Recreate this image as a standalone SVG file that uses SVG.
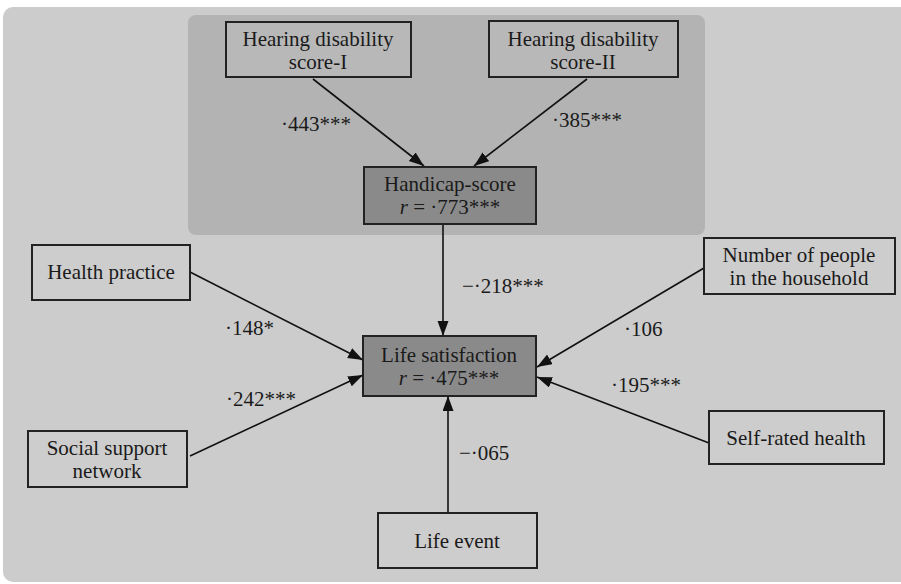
<svg xmlns="http://www.w3.org/2000/svg" width="901" height="584" viewBox="0 0 901 584">
<style>
text{font-family:"Liberation Serif","Times New Roman",serif;font-size:21px;fill:#1a1a1a;text-anchor:middle}
.lbl{text-anchor:start}
.box{fill:#cdcdcd;stroke:#222;stroke-width:2}
.inbox{fill:#b8b8b8;stroke:#222;stroke-width:2}
.dark{fill:#8a8a8a;stroke:#222;stroke-width:2}
.edge{stroke:#111;stroke-width:1.6;fill:none;marker-end:url(#ah)}
</style>
<defs>
<marker id="ah" markerUnits="userSpaceOnUse" markerWidth="16" markerHeight="12" refX="15" refY="5.5" orient="auto">
<path d="M0,0 L15,5.5 L0,11 z" fill="#111"/>
</marker>
</defs>
<rect x="0" y="0" width="901" height="584" fill="#ffffff"/>
<rect x="3" y="7" width="910" height="575" rx="10" fill="#cccccc"/>
<rect x="188" y="15" width="517" height="220" rx="8" fill="#b3b3b3"/>
<g id="connectors">
<line class="edge" x1="313" y1="79" x2="424" y2="166"/>
<line class="edge" x1="587" y1="79" x2="474" y2="166"/>
<line class="edge" x1="443" y1="224" x2="443" y2="336"/>
<line class="edge" x1="190" y1="272" x2="363" y2="360"/>
<line class="edge" x1="190" y1="456" x2="363" y2="375"/>
<line class="edge" x1="448" y1="513" x2="448" y2="396"/>
<line class="edge" x1="704" y1="268" x2="537" y2="367"/>
<line class="edge" x1="709" y1="443" x2="537" y2="377"/>
<text class="lbl" x="281" y="131">·443***</text>
<text class="lbl" x="552" y="127">·385***</text>
<text class="lbl" x="462" y="293">−·218***</text>
<text class="lbl" x="225" y="335">·148*</text>
<text class="lbl" x="226" y="406">·242***</text>
<text class="lbl" x="459" y="460">−·065</text>
<text class="lbl" x="624" y="336">·106</text>
<text class="lbl" x="611" y="392">·195***</text>
</g>
<g id="hds1">
<rect class="inbox" x="226" y="22" width="185" height="55"/>
<text x="318" y="46">Hearing disability</text>
<text x="318" y="69">score-I</text>
</g>
<g id="hds2">
<rect class="inbox" x="489" y="21" width="189" height="56"/>
<text x="583" y="46">Hearing disability</text>
<text x="583" y="69">score-II</text>
</g>
<g id="handicap">
<rect class="dark" x="364" y="167" width="172" height="57"/>
<text x="450" y="191">Handicap-score</text>
<text x="450" y="214"><tspan font-style="italic">r</tspan> = ·773***</text>
</g>
<g id="lifesat">
<rect class="dark" x="363" y="336" width="173" height="60"/>
<text x="449" y="362">Life satisfaction</text>
<text x="449" y="385"><tspan font-style="italic">r</tspan> = ·475***</text>
</g>
<g id="health">
<rect class="box" x="32" y="245" width="158" height="55"/>
<text x="111" y="279">Health practice</text>
</g>
<g id="social">
<rect class="box" x="28" y="431" width="159" height="56"/>
<text x="107" y="455">Social support</text>
<text x="107" y="478">network</text>
</g>
<g id="lifeevent">
<rect class="box" x="378" y="513" width="159" height="55"/>
<text x="457" y="548">Life event</text>
</g>
<g id="people">
<rect class="box" x="704" y="238" width="191" height="56"/>
<text x="799" y="262">Number of people</text>
<text x="799" y="285">in the household</text>
</g>
<g id="selfrated">
<rect class="box" x="709" y="411" width="175" height="53"/>
<text x="796" y="445">Self-rated health</text>
</g>
</svg>
